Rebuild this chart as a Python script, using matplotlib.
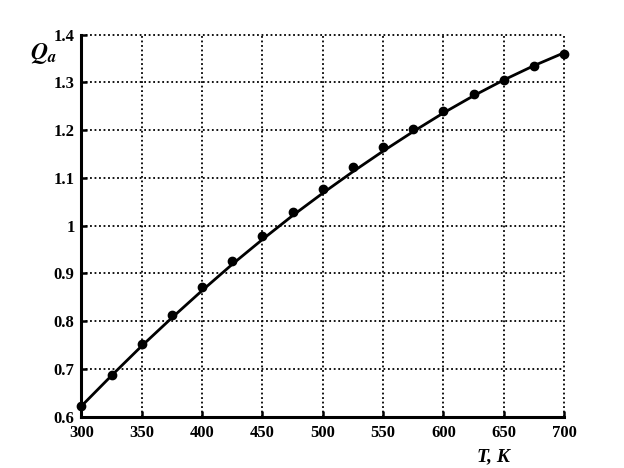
import numpy as np
import matplotlib
matplotlib.use('Agg')
import matplotlib.pyplot as plt

# ── DATA ─────────────────────────────────────────────────────────────────────
T_pts  = [300, 325, 350, 375, 400, 425, 450, 475, 500, 525, 550, 575, 600, 625, 650, 675, 700]
Q_pts  = [0.622, 0.688, 0.752, 0.812, 0.871, 0.926, 0.978, 1.029, 1.076, 1.122, 1.164, 1.203,
          1.240, 1.275, 1.306, 1.335, 1.359]
T_line = [300, 325, 350, 375, 400, 425, 450, 475, 500, 525, 550, 575, 600, 625, 650, 675, 700]
Q_line = [0.622, 0.686, 0.748, 0.807, 0.864, 0.919, 0.971, 1.021, 1.068, 1.113, 1.156, 1.197,
          1.236, 1.272, 1.305, 1.335, 1.362]

x_ticks = [300, 350, 400, 450, 500, 550, 600, 650, 700]
y_ticks = [0.6, 0.7, 0.8, 0.9, 1.0, 1.1, 1.2, 1.3, 1.4]
y_labels = ['0.6', '0.7', '0.8', '0.9', '1', '1.1', '1.2', '1.3', '1.4']

plt.rcParams['font.family'] = ['Liberation Serif', 'DejaVu Serif']
plt.rcParams['font.weight'] = 'bold'

fig = plt.figure(figsize=(6.24, 4.68), dpi=100)
ax = fig.add_axes([0.1306, 0.110, 0.7734, 0.816])

ax.plot(T_line, Q_line, color='black', lw=2.0, zorder=3, clip_on=False)
ax.plot(T_pts, Q_pts, 'o', color='black', ms=6, zorder=4, clip_on=False)

ax.set_xlim(300, 700)
ax.set_ylim(0.6, 1.4)
ax.set_xticks(x_ticks)
ax.set_yticks(y_ticks)
ax.set_yticklabels(y_labels)
ax.tick_params(direction='in', length=4, width=1.8, labelsize=12)
ax.tick_params(axis='y', pad=5)
ax.tick_params(axis='x', pad=6)
for lbl in ax.get_xticklabels() + ax.get_yticklabels():
    lbl.set_fontweight('bold')

ax.grid(True, color='black', linestyle=(0, (1, 1.5)), linewidth=1.3)
for gl in ax.get_xgridlines() + ax.get_ygridlines():
    gl.set_clip_on(False)
ax.set_axisbelow(True)
for s in ['top', 'right']:
    ax.spines[s].set_visible(False)
for s in ['left', 'bottom']:
    ax.spines[s].set_linewidth(2.2)

fig.text(0.048, 0.885, r'$\mathbf{\mathit{Q}_{\mathit{a}}}$', fontsize=17, ha='left', va='center',
         math_fontfamily='stix')
fig.text(0.79, 0.025, 'T, K', fontsize=14, fontstyle='italic', fontweight='bold',
         ha='center', va='center')

fig.savefig('out.png', dpi=100)
